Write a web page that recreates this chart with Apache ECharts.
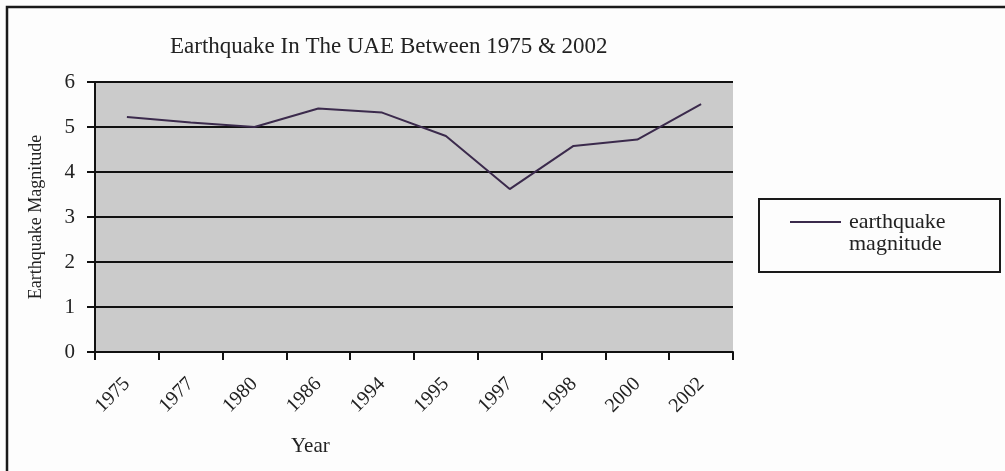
<!DOCTYPE html>
<html>
<head>
<meta charset="utf-8">
<script src="https://cdn.jsdelivr.net/npm/echarts@6/dist/echarts.min.js"></script>
<style>html,body{margin:0;padding:0;background:#fdfdfd;}#c{width:1005px;height:471px;}</style>
</head>
<body>
<div id="c"></div>
<script>
const years = ['1975','1977','1980','1986','1994','1995','1997','1998','2000','2002'];
const magnitude = [5.22, 5.10, 5.00, 5.41, 5.32, 4.80, 3.62, 4.58, 4.72, 5.51];
const yTicks = [0, 1, 2, 3, 4, 5, 6];
const seriesName = 'earthquake\nmagnitude';

const FONT = '"Liberation Serif", "Times New Roman", serif';
const chart = echarts.init(document.getElementById('c'), null, {renderer: 'canvas'});
chart.setOption({
  backgroundColor: '#fdfdfd',
  animation: false,
  title: {
    text: 'Earthquake In The UAE Between 1975 & 2002',
    left: 165, top: 30,
    textStyle: {fontFamily: FONT, fontSize: 23, fontWeight: 'normal', color: '#222'}
  },
  grid: {
    left: 95, right: 272, top: 82, bottom: 119,
    show: true, backgroundColor: '#cbcbcb', borderWidth: 0
  },
  legend: {
    data: [seriesName],
    left: 790, top: 189,
    padding: 0,
    itemWidth: 51, itemHeight: 2,
    icon: 'rect',
    formatter: function (name) { return '\n' + name; },
    textStyle: {fontFamily: FONT, fontSize: 22, color: '#222', lineHeight: 22, padding: [0, 0, 0, 3]}
  },
  xAxis: {
    type: 'category',
    data: years,
    boundaryGap: true,
    axisLine: {show: true, lineStyle: {color: '#111', width: 2}},
    axisTick: {show: true, alignWithLabel: false, length: 8, lineStyle: {color: '#111', width: 2}},
    axisLabel: {rotate: 45, margin: 29, fontFamily: FONT, fontSize: 20, color: '#222', interval: 0},
    splitLine: {show: false}
  },
  yAxis: {
    type: 'value',
    min: yTicks[0], max: yTicks[yTicks.length - 1], interval: 1,
    name: 'Earthquake Magnitude',
    nameLocation: 'middle',
    nameGap: 50,
    nameTextStyle: {fontFamily: FONT, fontSize: 18, color: '#222'},
    axisLine: {show: true, lineStyle: {color: '#111', width: 2}},
    axisTick: {show: true, length: 8, lineStyle: {color: '#111', width: 2}},
    axisLabel: {margin: 20, fontFamily: FONT, fontSize: 21, color: '#222'},
    splitLine: {show: true, lineStyle: {color: '#111', width: 2}}
  },
  series: [{
    name: seriesName,
    type: 'line',
    data: magnitude,
    symbol: 'none',
    lineStyle: {color: '#3b2a4c', width: 2},
    itemStyle: {color: '#3b2a4c'}
  }],
  graphic: [
    {type: 'rect', shape: {x: 7, y: 7, width: 1100, height: 600}, style: {fill: 'none', stroke: '#1a1a1a', lineWidth: 2.5}, silent: true},
    {type: 'rect', shape: {x: 759, y: 199, width: 241, height: 73}, style: {fill: 'none', stroke: '#1a1a1a', lineWidth: 2}, silent: true},
    {type: 'text', left: 291, top: 436, style: {text: 'Year', font: '21px ' + FONT, fill: '#222'}}
  ]
});
</script>
</body>
</html>
